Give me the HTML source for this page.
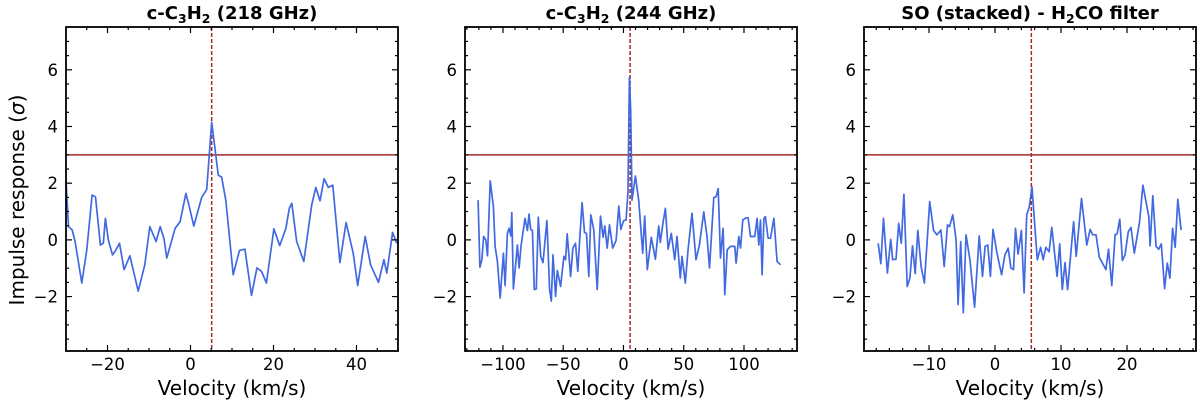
<!DOCTYPE html>
<html><head><meta charset="utf-8"><style>
body{margin:0;background:#fff}
svg{display:block;font-family:"DejaVu Sans","Liberation Sans",sans-serif}
</style></head><body>
<svg id="c" width="1200" height="404"></svg>
<script>
const p1V=[-30,-29.4,-28.5,-27.8,-26.2,-25,-23.7,-22.9,-21.7,-21,-20.5,-19.8,-18.8,-18.2,-17.1,-16,-14.6,-12.6,-11,-9.8,-8.3,-7.3,-6.4,-5.7,-3.7,-2.5,-1.1,-0.3,0.8,2.7,3.9,5.1,6.7,7.5,8.5,10.3,11.8,13.1,14.7,16,17.1,18.3,20.1,21.5,23,23.8,24.4,25.6,27.3,29.2,30.2,31.2,32.2,33.2,34.3,36,37.5,39.2,40.3,42.1,43.4,45.3,46.6,47.3,48.7,49.7];
const p1Y=[2.1,0.47,0.35,-0.06,-1.52,-0.35,1.58,1.52,-0.18,-0.12,0.76,0,-0.53,-0.41,-0.12,-1.05,-0.56,-1.81,-0.88,0.47,-0.06,0.47,0.06,-0.64,0.41,0.64,1.64,1.17,0.49,1.5,1.78,4.15,2.28,2.22,1.4,-1.23,-0.37,-0.33,-1.96,-0.99,-1.11,-1.52,0.39,-0.2,0.41,1.11,1.29,-0.06,-0.76,1.23,1.85,1.38,2.16,1.85,1.93,-0.8,0.61,-0.47,-1.61,0.12,-0.88,-1.5,-0.7,-1.17,0.26,-0.12];
const p2V=[-120.6,-119.1,-117.5,-116.1,-114.2,-112.8,-110.6,-107.9,-106.5,-104.6,-102.3,-99.6,-98.2,-96.3,-94.9,-93.5,-92.7,-91.3,-88,-86.6,-85,-81.7,-79.7,-78.4,-77,-75.6,-74,-72.3,-70.7,-68.7,-66.8,-63.5,-61.3,-59.9,-58.5,-56.3,-54.9,-52.2,-49.4,-48,-46.7,-43.9,-42,-39.8,-37.9,-36.5,-34.3,-32.3,-30.7,-28.8,-27.1,-24.6,-21.8,-19.1,-16.9,-15.5,-13.5,-11.6,-8.9,-6.1,-3.9,-2.2,0.2,2.2,3.8,4.9,6,7.1,9.9,12.6,16,17.6,19.8,23.1,26.5,29.2,30.6,32.8,34.8,37,39.7,42.5,44.4,47.2,48.6,51.3,53.6,56.9,60.2,63,66.7,69.4,71.4,75,76.9,78.6,80.5,82.7,84.1,86.1,88.8,92.4,93.5,95.7,97.1,99,101.8,103.4,105.4,109,110.9,112.3,113.7,115,116.5,117.8,120,122,124.8,127.5,130.3];
const p2Y=[1.4,-0.96,-0.7,0.12,0,-0.56,2.08,1.17,-0.23,-0.76,-2.05,-0.47,-1.61,0.23,0.41,0.14,0.96,-1.73,-0.18,-0.99,-0.23,0.76,0.33,0.91,0.37,0.33,-1.75,-1.73,0.8,-0.58,-0.8,0.68,-1.75,-2.16,-0.53,-1.99,-1.08,-1.64,-0.58,-0.7,0.21,-1.29,-0.29,-0.12,-1.11,-0.09,1.31,0.26,0.23,-1.29,0.88,0.35,-1.75,0.84,0.09,0.49,-0.29,0.53,-0.29,-0.02,1.19,0.37,0.68,0.7,1.7,5.73,4.56,1.4,2.25,1.4,-0.47,0.84,-1.05,0.09,-0.68,0.49,-0.09,0.61,1.11,-0.33,0.23,-0.7,0.12,-1.35,-0.58,-1.52,-0.33,0.94,-0.7,-0.18,0.99,0.09,-0.99,1.5,1.52,1.81,-0.64,0.41,-1.93,-0.35,-0.23,-0.23,-0.82,0.12,-0.29,0.7,0.78,0.78,0.12,0.12,0.76,-0.18,0.7,-1.23,0.76,0.82,0.06,0.06,0.76,-0.76,-0.88];
const p3V=[-17.7,-17.3,-16.9,-16.3,-15.8,-15.5,-15,-14.6,-14.2,-13.8,-13.3,-12.9,-12.5,-12.1,-11.7,-11.2,-10.7,-10.3,-9.9,-9.3,-8.8,-8.2,-7.7,-7.2,-6.9,-6.4,-5.9,-5.6,-5.2,-4.8,-4.4,-3.8,-3.1,-2.4,-1.9,-1.5,-1.1,-0.7,-0.3,0.3,1,1.5,2,2.4,2.8,3.1,3.5,4,4.4,4.8,5.2,5.6,5.9,6.4,6.9,7.3,7.7,8.2,8.6,9.4,9.8,10.2,10.6,11,11.9,12.3,13.1,13.9,14.4,14.8,15.3,15.8,16.8,17.2,17.7,18.2,18.5,18.9,19.3,19.7,20.2,20.6,21.1,21.9,22.4,23.3,23.5,23.9,24.4,24.8,25.2,25.7,26.1,26.5,26.9,27.3,27.7,28.2];
const p3Y=[-0.12,-0.84,0.76,-1.17,0.02,-0.7,-0.68,0.58,-0.12,1.61,-1.64,-1.35,-0.21,-1.19,0.33,-0.94,-1.52,-0.12,1.35,0.33,0.18,0.35,-0.94,0.53,0.47,0.88,0,-2.28,-0.06,-2.57,0.18,-0.7,-2.37,0.14,-1.29,-0.23,-0.18,-1.29,0.37,-0.47,-1.23,-0.53,-0.29,-0.99,-1.05,0.41,-0.5,0.33,-1.87,0.88,1.17,1.87,0.88,-0.7,-0.26,-0.7,-0.26,-0.42,0.44,-1.29,-0.14,-1.75,-0.8,-1.75,0.64,-0.58,1.46,-0.18,0.37,0.18,0.18,-0.61,-1.05,-0.33,-1.61,0.18,0.21,0.73,-0.73,-0.53,0.29,0.44,-0.47,0.64,1.93,0.82,-0.21,1.56,-0.23,-0.33,-0.14,-1.72,-0.82,-1.35,0.41,-0.26,1.43,0.35];
const S="<tspan dy='4' font-size='12.5'>";
const E="</tspan><tspan dy='-4'>";
const titles=["c-C"+S+"3"+E+"H</tspan>"+S+"2"+E+" (218 GHz)</tspan>","c-C"+S+"3"+E+"H</tspan>"+S+"2"+E+" (244 GHz)</tspan>","SO (stacked) - H"+S+"2"+E+"CO filter</tspan>"];
const xTicks=[[-20,0,20,40],[-100,-50,0,50,100],[-10,0,10,20]];
const yTicks=[-2,0,2,4,6];
const NS="http://www.w3.org/2000/svg";
const svg=document.getElementById('c');
function mk(t,a,p){const e=document.createElementNS(NS,t);for(const k in a)e.setAttribute(k,a[k]);(p||svg).appendChild(e);return e;}
const panels=[
 {x0:66,x1:398,vmin:-30,vmax:50,minor:5,V:p1V,Y:p1Y,vs:5.1},
 {x0:465,x1:797,vmin:-131.5,vmax:144,minor:10,V:p2V,Y:p2Y,vs:5.5},
 {x0:864,x1:1196,vmin:-19.85,vmax:30.45,minor:2,V:p3V,Y:p3Y,vs:5.5}];
const yTop=27,yBot=351,ymin=-3.92,ymax=7.51;
const ys=v=>yBot-(v-ymin)/(ymax-ymin)*(yBot-yTop);
panels.forEach((P,i)=>{
 const g=mk('g',{});
 
 
 const xs=v=>P.x0+(v-P.vmin)/(P.vmax-P.vmin)*(P.x1-P.x0);
 const th=mk('line',{x1:P.x0,x2:P.x1,y1:ys(3),y2:ys(3),stroke:'#a52a2a','stroke-width':1.5},g);
 
 
 const sl=mk('line',{x1:xs(P.vs),x2:xs(P.vs),y1:yTop,y2:yBot,stroke:'#a52a2a','stroke-width':1.5,'stroke-dasharray':'4,2'},g);
 
 
 const pts=P.V.map((v,k)=>xs(v).toFixed(1)+','+ys(P.Y[k]).toFixed(1)).join(' ');
 const ln=mk('polyline',{points:pts,fill:'none',stroke:'#4169e1','stroke-width':1.7,'stroke-linejoin':'round'},g);
 
 
 for(let v=Math.ceil(P.vmin/P.minor)*P.minor;v<=P.vmax;v+=P.minor){
  const maj=xTicks[i].includes(Math.round(v*100)/100);const L=maj?6:3;const x=xs(v);
  mk('line',{x1:x,x2:x,y1:yBot,y2:yBot-L,stroke:'#000','stroke-width':1.2},g);
  mk('line',{x1:x,x2:x,y1:yTop,y2:yTop+L,stroke:'#000','stroke-width':1.2},g);
 }
 for(let v=-3.5;v<=7.5;v+=0.5){
  const maj=yTicks.includes(v);const L=maj?6:3;const y=ys(v);
  mk('line',{x1:P.x0,x2:P.x0+L,y1:y,y2:y,stroke:'#000','stroke-width':1.2},g);
  mk('line',{x1:P.x1,x2:P.x1-L,y1:y,y2:y,stroke:'#000','stroke-width':1.2},g);
 }
 xTicks[i].forEach(v=>{const t=mk('text',{x:xs(v),y:370,'font-size':16.5,'text-anchor':'middle'},g);t.textContent=String(v).replace('-','\u2212');
  
  });
 yTicks.forEach(v=>{const t=mk('text',{x:P.x0-8,y:ys(v)+6,'font-size':16.5,'text-anchor':'end'},g);t.textContent=String(v).replace('-','\u2212');
  
  });
 const fr=mk('rect',{x:P.x0,y:yTop,width:P.x1-P.x0,height:yBot-yTop,fill:'none',stroke:'#000','stroke-width':1.8},g);
 
 
 const tt=mk('text',{x:(P.x0+P.x1)/2,y:19,'font-size':18,'font-weight':'bold','text-anchor':'middle'},g);
 tt.innerHTML=titles[i];
 
 
 const xl=mk('text',{x:(P.x0+P.x1)/2,y:395,'font-size':20,'text-anchor':'middle'},g);
 xl.textContent='Velocity (km/s)';
 
 
});
const yl=mk('text',{x:0,y:0,'font-size':20,'text-anchor':'middle',transform:'translate(24,200) rotate(-90)'});
yl.innerHTML='Impulse response (<tspan font-style="italic">σ</tspan>)';


</script>
</body></html>
